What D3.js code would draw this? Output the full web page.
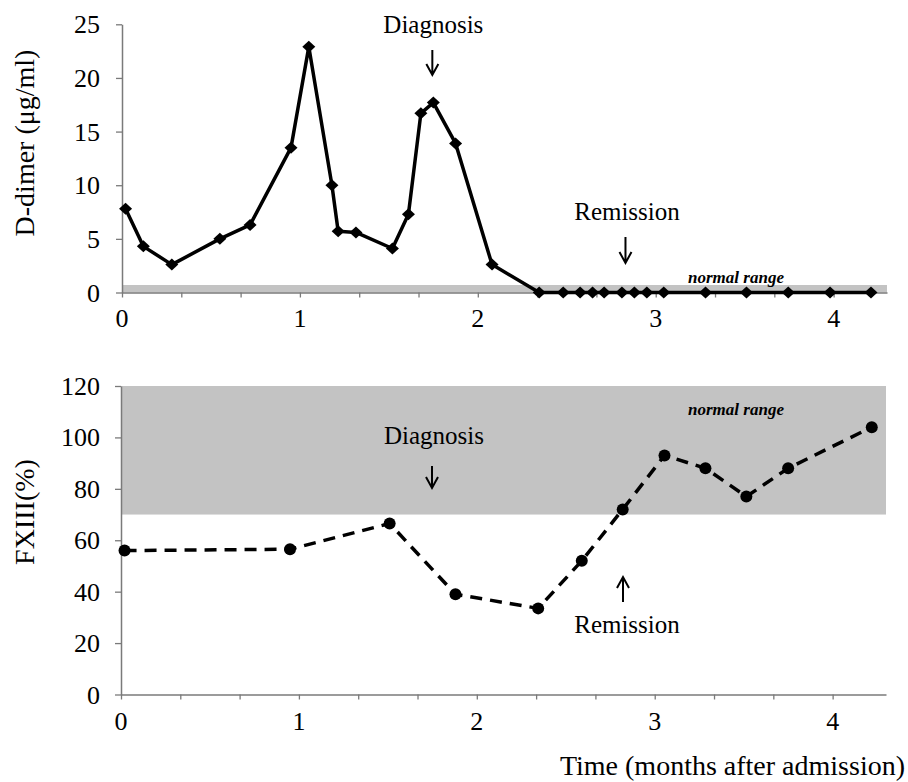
<!DOCTYPE html>
<html>
<head>
<meta charset="utf-8">
<script src="https://cdn.jsdelivr.net/npm/d3@7/dist/d3.min.js"></script>
<style>
  html, body { margin: 0; padding: 0; background: #fff; }
  svg { display: block; }
  text { font-family: "Liberation Serif", "Times New Roman", serif; fill: #000; }
</style>
</head>
<body>
<svg id="chart" width="908" height="782"></svg>
<script>
// ---- Data ----
const monthsD = [0.02, 0.12, 0.28, 0.55, 0.72, 0.95, 1.05, 1.18, 1.215, 1.315, 1.52, 1.61, 1.68, 1.75, 1.875, 2.08,
                 2.345, 2.48, 2.575, 2.645, 2.71, 2.81, 2.88, 2.95, 3.045, 3.28, 3.51, 3.745, 3.98, 4.21];
const dDimer  = [7.8, 4.3, 2.6, 5.0, 6.3, 13.5, 22.9, 10.0, 5.7, 5.6, 4.1, 7.3, 16.7, 17.7, 13.9, 2.6,
                 0, 0, 0, 0, 0, 0, 0, 0, 0, 0, 0, 0, 0, 0];
const monthsF = [0.02, 0.95, 1.51, 1.88, 2.345, 2.59, 2.82, 3.055, 3.285, 3.515, 3.75, 4.22];
const fxiii   = [56, 56.5, 66.5, 39, 33.5, 52, 72, 93, 88, 77, 88, 104];
const xTickLabels = [0, 1, 2, 3, 4];
const dTicks = [0, 5, 10, 15, 20, 25];
const fTicks = [0, 20, 40, 60, 80, 100, 120];
const dNormal = [0, 0.7];
const fNormal = [70, 120];
const diagnosisMonth = 1.75;
const remissionMonth = 2.83;

// ---- Layout ----
const svg = d3.select("#chart");
const xMax = 4.3;
const minorTicks = d3.range(0, 13).map(k => k / 3);

const xTop = d3.scaleLinear().domain([0, xMax]).range([122, 887]);
const yTop = d3.scaleLinear().domain([0, 25]).range([292.5, 24.3]);
const xBot = d3.scaleLinear().domain([0, xMax]).range([121, 886]);
const yBot = d3.scaleLinear().domain([0, 120]).range([694.5, 386]);

const axisColor = "#7a7a7a";
const bandColor = "#c3c3c3";

function styleAxis(g) {
  g.selectAll("path.domain").attr("stroke", axisColor).attr("stroke-width", 1.5);
  g.selectAll(".tick line").attr("stroke", axisColor).attr("stroke-width", 1.3);
}

function drawArrow(x, y1, y2) {
  // arrow from y1 to y2 (head at y2)
  const dir = y2 > y1 ? 1 : -1;
  svg.append("path")
    .attr("d", `M${x},${y1}L${x},${y2}M${x - 6},${y2 - dir * 11}L${x},${y2}L${x + 6},${y2 - dir * 11}`)
    .attr("fill", "none").attr("stroke", "#000").attr("stroke-width", 2);
}

// ---------- Top panel: D-dimer ----------
svg.append("rect")
  .attr("x", xTop(0)).attr("width", xTop(xMax) - xTop(0))
  .attr("y", yTop(dNormal[1])).attr("height", yTop(dNormal[0]) - yTop(dNormal[1]))
  .attr("fill", bandColor);

const gxTop = svg.append("g").attr("transform", `translate(0,${yTop(0)})`)
  .call(d3.axisBottom(xTop).tickValues(minorTicks).tickSize(5).tickSizeOuter(0).tickFormat(""));
styleAxis(gxTop);
svg.append("g").selectAll("text").data(xTickLabels).join("text")
  .attr("x", d => xTop(d)).attr("y", 327).attr("text-anchor", "middle")
  .attr("font-size", 26).text(d => d);

const gyTop = svg.append("g").attr("transform", `translate(${xTop(0)},0)`)
  .call(d3.axisLeft(yTop).tickValues(dTicks).tickSize(6).tickSizeOuter(0).tickFormat(""));
styleAxis(gyTop);
svg.append("g").selectAll("text").data(dTicks).join("text")
  .attr("x", 100).attr("y", d => yTop(d) + 9).attr("text-anchor", "end")
  .attr("font-size", 26).text(d => d);

svg.append("text")
  .attr("transform", `translate(34,${143}) rotate(-90)`)
  .attr("text-anchor", "middle").attr("font-size", 28).text("D-dimer (μg/ml)");

const dData = monthsD.map((m, i) => [m, dDimer[i]]);
svg.append("path").datum(dData)
  .attr("d", d3.line().x(d => xTop(d[0])).y(d => yTop(d[1])))
  .attr("fill", "none").attr("stroke", "#000").attr("stroke-width", 3.5).attr("stroke-linejoin", "round");
svg.append("g").selectAll("path").data(dData).join("path")
  .attr("transform", d => `translate(${xTop(d[0])},${yTop(d[1])})`)
  .attr("d", "M0,-6L6.5,0L0,6L-6.5,0Z").attr("fill", "#000");

svg.append("text").attr("x", xTop(diagnosisMonth)).attr("y", 33).attr("text-anchor", "middle")
  .attr("font-size", 25).text("Diagnosis");
drawArrow(xTop(diagnosisMonth) - 1, 50, 75);
svg.append("text").attr("x", 627).attr("y", 220).attr("text-anchor", "middle")
  .attr("font-size", 25).text("Remission");
drawArrow(xTop(remissionMonth), 237, 263);
svg.append("text").attr("x", 736).attr("y", 283).attr("text-anchor", "middle")
  .attr("font-size", 17).attr("font-style", "italic").attr("font-weight", "bold").text("normal range");

// ---------- Bottom panel: FXIII ----------
svg.append("rect")
  .attr("x", xBot(0)).attr("width", xBot(xMax) - xBot(0))
  .attr("y", yBot(fNormal[1])).attr("height", yBot(fNormal[0]) - yBot(fNormal[1]))
  .attr("fill", bandColor);

const gxBot = svg.append("g").attr("transform", `translate(0,${yBot(0)})`)
  .call(d3.axisBottom(xBot).tickValues(minorTicks).tickSize(5).tickSizeOuter(0).tickFormat(""));
styleAxis(gxBot);
svg.append("g").selectAll("text").data(xTickLabels).join("text")
  .attr("x", d => xBot(d)).attr("y", 730).attr("text-anchor", "middle")
  .attr("font-size", 26).text(d => d);

const gyBot = svg.append("g").attr("transform", `translate(${xBot(0)},0)`)
  .call(d3.axisLeft(yBot).tickValues(fTicks).tickSize(6).tickSizeOuter(0).tickFormat(""));
styleAxis(gyBot);
svg.append("g").selectAll("text").data(fTicks).join("text")
  .attr("x", 100).attr("y", d => yBot(d) + 9).attr("text-anchor", "end")
  .attr("font-size", 26).text(d => d);

svg.append("text")
  .attr("transform", `translate(34,${512}) rotate(-90)`)
  .attr("text-anchor", "middle").attr("font-size", 28).text("FXIII(%)");

const fData = monthsF.map((m, i) => [m, fxiii[i]]);
svg.append("path").datum(fData)
  .attr("d", d3.line().x(d => xBot(d[0])).y(d => yBot(d[1])))
  .attr("fill", "none").attr("stroke", "#000").attr("stroke-width", 3.5)
  .attr("stroke-dasharray", "12,8");
svg.append("g").selectAll("circle").data(fData).join("circle")
  .attr("cx", d => xBot(d[0])).attr("cy", d => yBot(d[1])).attr("r", 6).attr("fill", "#000");

svg.append("text").attr("x", 434).attr("y", 444).attr("text-anchor", "middle")
  .attr("font-size", 25).text("Diagnosis");
drawArrow(432, 466, 488);
svg.append("text").attr("x", 736).attr("y", 415).attr("text-anchor", "middle")
  .attr("font-size", 17).attr("font-style", "italic").attr("font-weight", "bold").text("normal range");
svg.append("text").attr("x", 627).attr("y", 633).attr("text-anchor", "middle")
  .attr("font-size", 25).text("Remission");
drawArrow(623, 602, 577);

svg.append("text").attr("x", 905).attr("y", 775).attr("text-anchor", "end")
  .attr("font-size", 28).text("Time (months after admission)");
</script>
</body>
</html>
